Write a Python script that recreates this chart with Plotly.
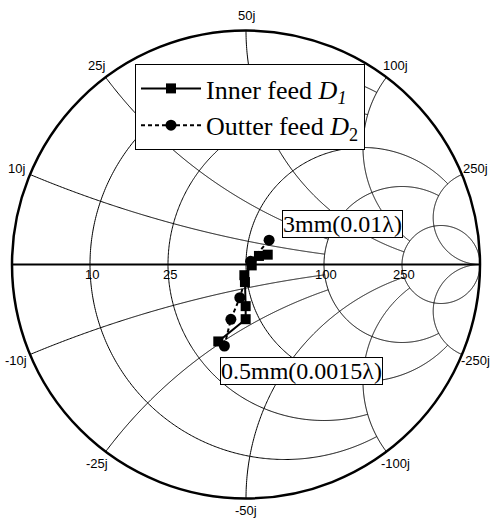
import numpy as np
import plotly.graph_objects as go

# Reference impedance (ohm)
Z0 = 50.0

# Measured input impedance for probe length 0.5 mm ... 3 mm (ohm)
inner_real = [32.3, 44.7, 46.8, 49.0, 49.1, 52.5, 55.7, 60.0]
inner_imag = [-24.2, -22.1, -17.2, -7.4, -4.5, -0.4, 4.1, 5.1]
outer_real = [33.1, 39.6, 45.6, 52.0, 59.5]
outer_imag = [-26.5, -19.7, -13.2, 1.4, 12.6]

# Grid values (normalised) and the value at which each grid line stops
grid_vals = [0.2, 0.5, 1, 2, 5]
grid_stop = {0.2: 2, 0.5: 2, 1: 5, 2: 5, 5: None}

real_labels = {0.2: "10", 0.5: "25", 2: "100", 5: "250"}
imag_ticks = [-5, -2, -1, -0.5, -0.2, 0.2, 0.5, 1, 2, 5]

W, H = 492, 518
ML, MR, MT, MB = 12, 12, 30, 19

fig = go.Figure()

grid_line = dict(color="black", width=1)

# constant-resistance circles
for r in grid_vals:
    stop = grid_stop[r]
    if stop is None:
        t = np.linspace(-np.pi / 2, np.pi / 2, 721)[1:-1]
        xs = np.tan(t) * (1 + r)
        xs = np.concatenate([[-1e6], xs, [1e6]])
    else:
        xs = np.linspace(-stop, stop, 600)
    fig.add_trace(go.Scattersmith(real=np.full_like(xs, r), imag=xs, mode="lines",
                                  line=grid_line, showlegend=False, hoverinfo="skip"))

# constant-reactance arcs
for x in grid_vals:
    stop = grid_stop[x]
    if stop is None:
        t = np.linspace(0, np.pi / 2, 500)[:-1]
        rs = np.concatenate([np.tan(t) * (1 + x), [1e6]])
    else:
        rs = np.linspace(0, stop, 500)
    for sgn in (1, -1):
        fig.add_trace(go.Scattersmith(real=rs, imag=np.full_like(rs, sgn * x), mode="lines",
                                      line=grid_line, showlegend=False, hoverinfo="skip"))

# measured data
fig.add_trace(go.Scattersmith(
    real=np.array(inner_real) / Z0, imag=np.array(inner_imag) / Z0,
    mode="lines+markers", name="Inner feed <i>D</i><sub><i>1</i></sub>",
    line=dict(color="black", width=2),
    marker=dict(symbol="square", size=10, color="black"),
    legendgroup="a",
))
fig.add_trace(go.Scattersmith(
    real=np.array(outer_real) / Z0, imag=np.array(outer_imag) / Z0,
    mode="lines+markers", name="Outter feed <i>D</i><sub>2</sub>",
    line=dict(color="black", width=2, dash="4px,3px"),
    marker=dict(symbol="circle", size=11, color="black"),
    legendgroup="b",
))

# helpers to place text around the chart
pw, ph = W - ML - MR, H - MT - MB
cx, cy = ML + pw / 2, MT + ph / 2
R = min(pw, ph) / 2


def to_paper(px, py):
    return (px - ML) / pw, 1 - (py - MT) / ph


annotations = []
tick_font = dict(family="Liberation Sans, Arial", size=13, color="black")
for x in imag_ticks:
    gu = (x * x - 1) / (x * x + 1)
    gv = 2 * x / (x * x + 1)
    d = 12 if x == -1 else 15
    px, py = cx + (R + d) * gu, cy - (R + d) * gv
    ax, ay = to_paper(px, py)
    annotations.append(dict(x=ax, y=ay, xref="paper", yref="paper", text=f"{int(round(x * Z0))}j",
                            showarrow=False, font=tick_font, xanchor="center", yanchor="middle"))
for r, lab in real_labels.items():
    gu = (r - 1) / (r + 1)
    px, py = cx + R * gu + 2, cy + 10
    ax, ay = to_paper(px, py)
    annotations.append(dict(x=ax, y=ay, xref="paper", yref="paper", text=lab,
                            showarrow=False, font=tick_font, xanchor="center", yanchor="middle"))

box_font = dict(family="Liberation Serif, Times New Roman", size=24, color="black")
for text, (px, py) in [("3mm(0.01λ)", (342.5, 224)), ("0.5mm(0.0015λ)", (301, 370.5))]:
    ax, ay = to_paper(px, py)
    annotations.append(dict(x=ax, y=ay, xref="paper", yref="paper", text=text, showarrow=False,
                            font=box_font, bgcolor="white", bordercolor="black", borderwidth=1,
                            borderpad=0, xanchor="center", yanchor="middle"))

lx, ly = to_paper(135, 64)

fig.update_layout(
    width=W, height=H,
    margin=dict(l=ML, r=MR, t=MT, b=MB),
    paper_bgcolor="white", plot_bgcolor="white",
    smith=dict(
        bgcolor="white",
        realaxis=dict(showgrid=False, showticklabels=False, ticks="", showline=True,
                      linecolor="black", linewidth=2),
        imaginaryaxis=dict(showgrid=False, showticklabels=False, ticks="", showline=True,
                           linecolor="black", linewidth=2.5),
    ),
    legend=dict(x=lx, y=ly, xanchor="left", yanchor="top", bgcolor="white",
                bordercolor="black", borderwidth=1, itemwidth=60, tracegroupgap=0,
                font=dict(family="Liberation Serif, Times New Roman", size=26, color="black")),
    annotations=annotations,
)

fig.write_html("out.html")
